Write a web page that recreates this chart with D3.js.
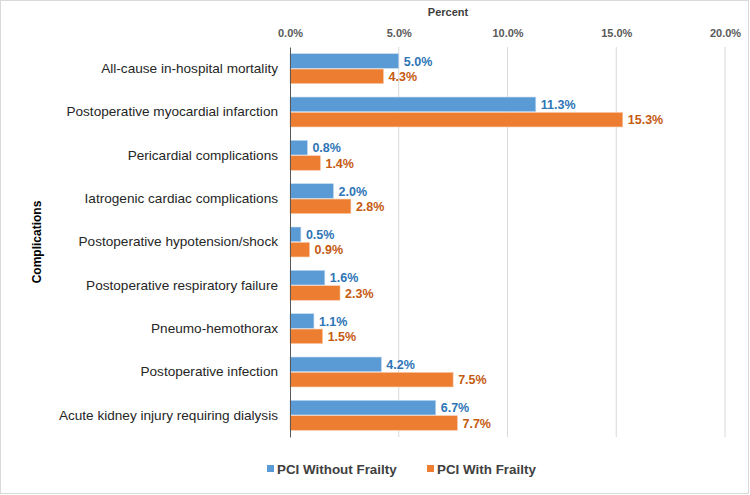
<!DOCTYPE html>
<html>
<head>
<meta charset="utf-8">
<script src="https://cdn.jsdelivr.net/npm/d3@7"></script>
<style>
  body { margin: 0; background: #fff; }
  svg { display: block; font-family: "Liberation Sans", Arial, sans-serif; }
</style>
</head>
<body>
<div id="chart"></div>
<script>
// --------------- Data ---------------
const categories = [
  "All-cause in-hospital mortality",
  "Postoperative myocardial infarction",
  "Pericardial complications",
  "Iatrogenic cardiac complications",
  "Postoperative hypotension/shock",
  "Postoperative respiratory failure",
  "Pneumo-hemothorax",
  "Postoperative infection",
  "Acute kidney injury requiring dialysis"
];
const withoutFrailty = [5.0, 11.3, 0.8, 2.0, 0.5, 1.6, 1.1, 4.2, 6.7];
const withFrailty = [4.3, 15.3, 1.4, 2.8, 0.9, 2.3, 1.5, 7.5, 7.7];
const seriesNames = ["PCI Without Frailty", "PCI With Frailty"];
const xTicks = [0, 5, 10, 15, 20];

// --------------- Constants ---------------
const WIDTH = 750, HEIGHT = 495;
const MARGINS = { top: 47, right: 25, bottom: 58, left: 290 };
const COLORS = ["#5B9BD5", "#ED7D31"];
const LABEL_COLORS = ["#2E75B6", "#C55A11"];

const series = [withoutFrailty, withFrailty];

const svg = d3
  .select("#chart")
  .append("svg")
  .attr("width", WIDTH)
  .attr("height", HEIGHT);

// outer border
svg
  .append("rect")
  .attr("x", 0.5)
  .attr("y", 0.5)
  .attr("width", WIDTH - 2)
  .attr("height", HEIGHT - 2)
  .attr("fill", "#fff")
  .attr("stroke", "#D9D9D9");

const x = d3
  .scaleLinear()
  .domain([0, 20])
  .range([MARGINS.left, WIDTH - MARGINS.right]);

const y = d3
  .scaleBand()
  .domain(categories)
  .range([MARGINS.top, HEIGHT - MARGINS.bottom])
  .paddingInner(0.31)
  .paddingOuter(0.155);

const ySub = d3
  .scaleBand()
  .domain([0, 1])
  .range([0, y.bandwidth()])
  .paddingInner(0.05);

// gridlines
svg
  .append("g")
  .selectAll("line")
  .data(xTicks.slice(1))
  .join("line")
  .attr("x1", (d) => x(d))
  .attr("x2", (d) => x(d))
  .attr("y1", MARGINS.top)
  .attr("y2", HEIGHT - MARGINS.bottom)
  .attr("stroke", "#D9D9D9")
  .attr("stroke-width", 1);

// top axis labels
const xAxis = svg
  .append("g")
  .attr("transform", `translate(0,${MARGINS.top - 7})`)
  .call(
    d3
      .axisTop(x)
      .tickValues(xTicks)
      .tickSize(0)
      .tickFormat((d) => d3.format(".1f")(d) + "%")
  );
xAxis.select(".domain").remove();
xAxis
  .selectAll("text")
  .attr("fill", "#595959")
  .attr("font-size", 11)
  .attr("font-weight", "bold")
  .attr("font-family", "Liberation Sans, Arial, sans-serif");

svg
  .append("text")
  .attr("x", 448)
  .attr("y", 16)
  .attr("text-anchor", "middle")
  .attr("fill", "#404040")
  .attr("font-size", 11)
  .attr("font-weight", "bold")
  .text("Percent");

// bars
series.forEach((vals, s) => {
  const g = svg.append("g");
  g.selectAll("rect")
    .data(vals)
    .join("rect")
    .attr("x", x(0))
    .attr("y", (d, i) => y(categories[i]) + ySub(s))
    .attr("width", (d) => x(d) - x(0))
    .attr("height", ySub.bandwidth())
    .attr("fill", COLORS[s])
    .attr("stroke", s === 1 ? "#F8CBAD" : "#BDD7EE")
    .attr("stroke-width", 0.6);

  g.selectAll("text")
    .data(vals)
    .join("text")
    .attr("x", (d) => x(d) + 5)
    .attr("y", (d, i) => y(categories[i]) + ySub(s) + ySub.bandwidth() / 2)
    .attr("dy", "0.36em")
    .attr("fill", LABEL_COLORS[s])
    .attr("font-size", 12.5)
    .attr("font-weight", "bold")
    .text((d) => d3.format(".1f")(d) + "%");
});

// left axis
const yAxis = svg
  .append("g")
  .attr("transform", `translate(${MARGINS.left},0)`)
  .call(d3.axisLeft(y).tickSize(0).tickPadding(12));
yAxis.select(".domain").attr("stroke", "#595959");
yAxis
  .selectAll("text")
  .attr("fill", "#262626")
  .attr("font-size", 13.6)
  .attr("font-family", "Liberation Sans, Arial, sans-serif");

svg
  .append("text")
  .attr("transform", `translate(41,${(MARGINS.top + HEIGHT - MARGINS.bottom) / 2}) rotate(-90)`)
  .attr("text-anchor", "middle")
  .attr("fill", "#000")
  .attr("font-size", 12)
  .attr("font-weight", "bold")
  .text("Complications");

// legend
const legendX = [267, 427];
seriesNames.forEach((name, s) => {
  svg
    .append("rect")
    .attr("x", legendX[s])
    .attr("y", 465)
    .attr("width", 7)
    .attr("height", 7)
    .attr("fill", COLORS[s]);
  svg
    .append("text")
    .attr("x", legendX[s] + 10)
    .attr("y", 469)
    .attr("dy", "0.36em")
    .attr("fill", "#404040")
    .attr("font-size", 13.4)
    .attr("font-weight", "bold")
    .text(name);
});
</script>
</body>
</html>
